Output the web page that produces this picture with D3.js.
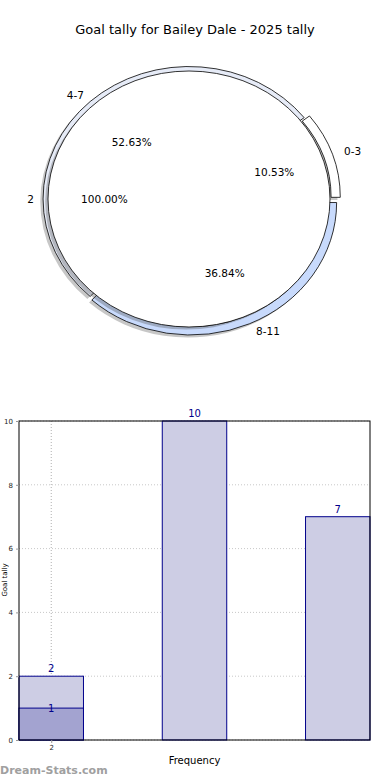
<!DOCTYPE html>
<html>
<head>
<meta charset="utf-8">
<script src="https://cdn.jsdelivr.net/npm/d3@7"></script>
<style>
  body { margin: 0; background: #fff; }
  svg { display: block; font-family: "DejaVu Sans", sans-serif; }
</style>
</head>
<body>
<svg id="chart" width="390" height="780"></svg>
<script>
// pie data
const innerLabels = ['2'];
const innerValues = [19];
const ringLabels  = ['0-3', '4-7', '8-11'];
const ringValues  = [2, 10, 7];

// bar data
const barCats     = ['2', '', ''];
const barValues   = [2, 10, 7];
const overValues  = [1, null, null];
const yTicks      = [0, 2, 4, 6, 8, 10];

const ringColors  = ['#ffffff', '#e6ebf7', '#c8dafc'];
const ringExplode = [0.04, 0.0, 0.03];

const svg = d3.select('#chart');

svg.append('text')
  .attr('x', 195).attr('y', 34)
  .attr('font-size', '13px')
  .style('text-anchor', 'middle')
  .text('Goal tally for Bailey Dale - 2025 tally');

// ---- pie (elliptical, like matplotlib with unequal aspect)
const cx = 189, cy = 199, rx = 141, ry = 128, R = 100;
const pieG = svg.append('g').attr('transform', `translate(${cx}, ${cy})`);

const pie = d3.pie().sort(null).value(d => d)
  .startAngle(Math.PI / 2).endAngle(Math.PI / 2 - 2 * Math.PI);

const ringArcs  = pie(ringValues);
const innerArcs = pie(innerValues);

function mid(d) { return (d.startAngle + d.endAngle) / 2; }
function pt(a, r) { return [Math.sin(a) * r * rx, -Math.cos(a) * r * ry]; }

const ringPath  = d3.arc().innerRadius(0.97 * R).outerRadius(1.035 * R);
const innerPath = d3.arc().innerRadius(0).outerRadius(R);

function scaled(g, dx, dy) {
  return g.append('g')
    .attr('transform', `translate(${dx}, ${dy}) scale(${rx / R}, ${ry / R})`);
}

const shOff = [-2.8, 2.6];

// ring: shadows then slices
ringArcs.forEach((d, i) => {
  const e = pt(mid(d), ringExplode[i]);
  scaled(pieG, e[0] + shOff[0], e[1] + shOff[1])
    .append('path').attr('d', ringPath(d))
    .attr('fill', '#444').attr('opacity', 0.3);
});
ringArcs.forEach((d, i) => {
  const e = pt(mid(d), ringExplode[i]);
  scaled(pieG, e[0], e[1])
    .append('path').attr('d', ringPath(d))
    .attr('fill', ringColors[i])
    .attr('stroke', '#000').attr('stroke-width', 0.8)
    .attr('vector-effect', 'non-scaling-stroke');
});

// inner pie: its shadow lies over the ring
scaled(pieG, shOff[0], shOff[1])
  .append('path').attr('d', innerPath(innerArcs[0]))
  .attr('fill', '#444').attr('opacity', 0.32);
scaled(pieG, 0, 0)
  .append('path').attr('d', innerPath(innerArcs[0]))
  .attr('fill', '#fff')
  .attr('stroke', '#000').attr('stroke-width', 0.8)
  .attr('vector-effect', 'non-scaling-stroke');

// labels
function addLabels(arcs, labels, explode) {
  const total = d3.sum(arcs, v => v.value);
  arcs.forEach((d, i) => {
    const a = mid(d), ex = explode ? explode[i] : 0;
    const p = pt(a, 1.1 + ex);
    pieG.append('text')
      .attr('x', p[0] + (p[0] > 0.5 ? 3 : 0)).attr('y', p[1])
      .attr('dy', '0.35em')
      .attr('font-size', '10.5px')
      .style('text-anchor', p[0] > 0.5 ? 'start' : (p[0] < -0.5 ? 'end' : 'middle'))
      .text(labels[i]);
    const q = pt(a, 0.6 + ex);
    pieG.append('text')
      .attr('x', q[0]).attr('y', q[1])
      .attr('dy', '0.35em')
      .attr('font-size', '10.5px')
      .style('text-anchor', 'middle')
      .text((d.value / total * 100).toFixed(2) + '%');
  });
}
addLabels(ringArcs, ringLabels, ringExplode);
addLabels(innerArcs, innerLabels, null);

// ---- bar chart
const pLeft = 19, pRight = 370, pTop = 421, pBottom = 740;
const barW = 0.45;
const x = d3.scaleLinear().domain([-barW / 2, barCats.length - 1 + barW / 2]).range([pLeft, pRight]);
const y = d3.scaleLinear().domain([0, 10]).range([pBottom, pTop]);

const barG = svg.append('g');

// grid
barG.selectAll('.hgrid').data(yTicks).enter().append('line')
  .attr('x1', pLeft).attr('x2', pRight)
  .attr('y1', d => y(d)).attr('y2', d => y(d))
  .attr('stroke', '#c8c8c8').attr('stroke-width', 1)
  .attr('stroke-dasharray', '1,2');
barG.append('line')
  .attr('x1', x(0)).attr('x2', x(0))
  .attr('y1', pTop).attr('y2', pBottom)
  .attr('stroke', '#b0b0b0').attr('stroke-width', 1)
  .attr('stroke-dasharray', '1,2');

// bars
barG.selectAll('.bar').data(barValues).enter().append('rect')
  .attr('x', (d, i) => x(i - barW / 2))
  .attr('width', (d, i) => x(i + barW / 2) - x(i - barW / 2))
  .attr('y', d => y(d))
  .attr('height', d => y(0) - y(d))
  .attr('fill', '#cdcde4')
  .attr('stroke', '#00008b').attr('stroke-width', 1);

const overData = overValues.map((v, i) => ({v, i})).filter(d => d.v != null);

barG.selectAll('.over').data(overData)
  .enter().append('rect')
  .attr('x', d => x(d.i - barW / 2))
  .attr('width', d => x(d.i + barW / 2) - x(d.i - barW / 2))
  .attr('y', d => y(d.v))
  .attr('height', d => y(0) - y(d.v))
  .attr('fill', '#a3a3d0')
  .attr('stroke', '#00008b').attr('stroke-width', 1);

barG.selectAll('.blabel').data(barValues).enter().append('text')
  .attr('x', (d, i) => x(i)).attr('y', d => y(d) - 4)
  .attr('font-size', '10px').attr('fill', '#00008b')
  .style('text-anchor', 'middle')
  .text(d => d);

barG.selectAll('.olabel').data(overData)
  .enter().append('text')
  .attr('x', d => x(d.i)).attr('y', d => y(d.v) + 4)
  .attr('font-size', '10px').attr('fill', '#00008b')
  .style('text-anchor', 'middle')
  .text(d => d.v);

// frame
barG.append('rect')
  .attr('x', pLeft).attr('y', pTop)
  .attr('width', pRight - pLeft).attr('height', pBottom - pTop)
  .attr('fill', 'none').attr('stroke', '#000').attr('stroke-width', 1);

// y axis
const yAxis = d3.axisLeft(y).tickValues(yTicks).tickSize(3).tickPadding(3);
const yg = barG.append('g').attr('transform', `translate(${pLeft}, 0)`).call(yAxis);
yg.select('.domain').remove();
yg.selectAll('text').attr('font-size', '7px').attr('fill', '#222').attr('font-family', 'DejaVu Sans');
yg.selectAll('line').attr('stroke', '#999');

// x axis
const xAxis = d3.axisBottom(x).tickValues([0]).tickFormat(i => barCats[i]).tickSize(3).tickPadding(2);
const xg = barG.append('g').attr('transform', `translate(0, ${pBottom})`).call(xAxis);
xg.select('.domain').remove();
xg.selectAll('text').attr('font-size', '7px').attr('fill', '#222').attr('font-family', 'DejaVu Sans');
xg.selectAll('line').attr('stroke', '#999');

svg.append('text')
  .attr('x', x(1)).attr('y', 764)
  .attr('font-size', '10px')
  .style('text-anchor', 'middle')
  .text('Frequency');

svg.append('text')
  .attr('transform', `translate(7, 580) rotate(-90)`)
  .attr('font-size', '7px')
  .style('text-anchor', 'middle')
  .text('Goal tally');

svg.append('text')
  .attr('x', 0).attr('y', 774)
  .attr('font-size', '11px').attr('font-weight', 'bold')
  .attr('fill', '#a0a0a0')
  .text('Dream-Stats.com');
</script>
</body>
</html>
